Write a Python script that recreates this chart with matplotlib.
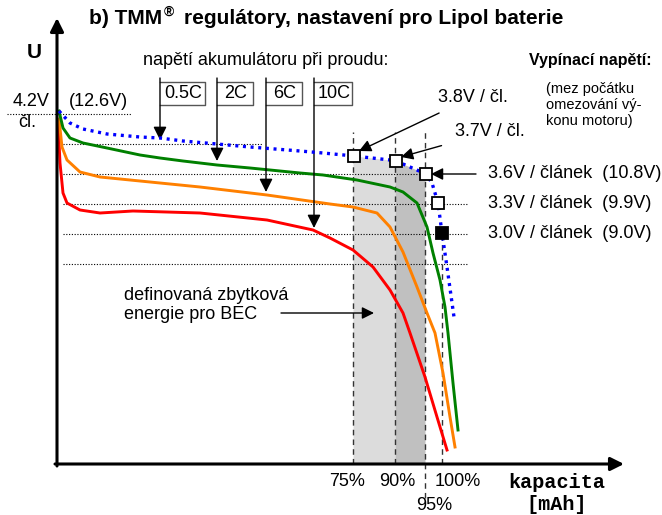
import numpy as np
import matplotlib.pyplot as plt

plt.rcParams['font.family'] = ['Liberation Sans', 'DejaVu Sans']

# discharge curves: x = capacity position (px column), y = cell voltage [V]
c05_x = [59, 70, 83, 107, 140, 160, 183, 217, 250, 300, 323, 354, 390, 396, 410, 426, 432, 438, 442, 447, 454]
c05_v = [4.23, 4.11, 4.05, 4.00, 3.97, 3.96, 3.93, 3.90, 3.87, 3.83, 3.81, 3.78, 3.74, 3.73, 3.67, 3.60,
         3.51, 3.31, 3.01, 2.67, 2.17]
c2_x = [59, 63, 70, 83, 107, 140, 160, 183, 217, 250, 300, 323, 357, 390, 403, 417, 427, 433, 440, 445, 448, 453, 458]
c2_v = [4.23, 4.06, 3.96, 3.91, 3.86, 3.79, 3.76, 3.73, 3.69, 3.66, 3.61, 3.59, 3.54, 3.47, 3.42, 3.31,
        3.07, 2.81, 2.54, 2.27, 2.01, 1.51, 1.04]
c6_x = [59, 62, 67, 80, 100, 150, 200, 267, 330, 353, 377, 390, 403, 417, 427, 435, 443, 450, 455]
c6_v = [4.15, 3.87, 3.74, 3.62, 3.57, 3.52, 3.47, 3.39, 3.30, 3.27, 3.21, 3.07, 2.82, 2.47, 2.21, 2.01,
        1.61, 1.17, 0.87]
c10_x = [58, 60, 63, 67, 80, 100, 133, 200, 267, 313, 330, 353, 373, 390, 403, 410, 425, 437, 447]
c10_v = [4.12, 3.71, 3.41, 3.31, 3.24, 3.21, 3.23, 3.21, 3.14, 3.04, 2.96, 2.84, 2.67, 2.44, 2.21, 2.01,
         1.57, 1.17, 0.84]

rates = ['0.5C', '2C', '6C', '10C']
rate_tip_v = [3.94, 3.73, 3.42, 3.06]

cut_v = [3.8, 3.7, 3.6, 3.3, 3.0]
cut_x = [354, 396, 426, 438, 442]
pack_v = [10.8, 9.9, 9.0]
pct = ['75%', '90%', '95%', '100%']
pct_x = [353, 395, 425, 442]


def v(py):
    # pixel row -> volts (10 px per 0.1 V, 3.6 V at row 174)
    return 3.6 - (py - 174) / 100.0


fig = plt.figure(figsize=(6.62, 5.15), dpi=100)
ax = fig.add_axes([0, 0, 1, 1])
ax.set_xlim(0, 662)
ax.set_ylim(v(515), v(0))
ax.axis('off')

y0 = v(464)

# shaded residual energy zones under the 0.5C curve
xs = np.linspace(pct_x[0], pct_x[1], 50)
ax.fill_between(xs, y0, np.interp(xs, c05_x, c05_v), color='#dcdcdc', lw=0, zorder=1)
xs = np.linspace(pct_x[1], pct_x[2], 50)
ax.fill_between(xs, y0, np.interp(xs, c05_x, c05_v), color='#c0c0c0', lw=0, zorder=1)

# dashed capacity marks
for i, x in enumerate(pct_x):
    top = v(132) if i < 3 else v(238)
    bot = v(498) if i == 2 else y0
    ax.plot([x, x], [bot, top], color='#333333', lw=1, ls=(0, (4, 3)), zorder=2)

# dotted voltage levels
ax.plot([7, 132], [4.2, 4.2], color='k', lw=0.8, ls=(0, (1, 1.5)), zorder=2)
ax.plot([63, 262], [3.9, 3.9], color='k', lw=0.8, ls=(0, (1, 1.5)), zorder=2)
ax.plot([63, 426], [3.6, 3.6], color='k', lw=0.8, ls=(0, (1, 1.5)), zorder=2)
for lv in [3.3, 3.0, 2.7]:
    ax.plot([63, 468], [lv, lv], color='k', lw=0.8, ls=(0, (1, 1.5)), zorder=2)

# curves
ax.plot(c10_x, c10_v, color='#ff0000', lw=2.1, zorder=3)
ax.plot(c6_x, c6_v, color='#ff8000', lw=2.1, zorder=3)
ax.plot(c2_x, c2_v, color='#008000', lw=2.1, zorder=3)
ax.plot(c05_x, c05_v, color='#0000ff', lw=2.4, ls=(0, (0.9, 1.4)), zorder=4)

# cut-off markers
mk_v = np.interp(cut_x, c05_x, c05_v)
for i in range(len(cut_x)):
    face = 'k' if i == len(cut_x) - 1 else 'white'
    ax.plot(cut_x[i], mk_v[i], marker='s', ms=8, mfc=face, mec='k', mew=1.3, zorder=5)

# axes
ax.annotate('', xy=(57, v(18)), xytext=(57, v(466)),
            arrowprops=dict(arrowstyle='-|>', color='k', lw=2.2, mutation_scale=20, shrinkA=0, shrinkB=0))
ax.annotate('', xy=(624, y0), xytext=(55, y0),
            arrowprops=dict(arrowstyle='-|>', color='k', lw=2.2, mutation_scale=20, shrinkA=0, shrinkB=0))

# rate labels with arrows
box_x = [(160, 205), (217, 253), (266, 302), (314, 352)]
for lab, (xa, xb), tip in zip(rates, box_x, rate_tip_v):
    ax.plot([xa, xb, xb, xa], [v(82), v(82), v(105), v(105)], color='#555555', lw=1, zorder=3)
    ax.text((xa + xb) / 2 + 1, v(94), lab, fontsize=13, ha='center', va='center')
    ax.annotate('', xy=(xa, tip), xytext=(xa, v(78)),
                arrowprops=dict(arrowstyle='-|>', color='k', lw=1, mutation_scale=20, shrinkA=0, shrinkB=0))

# texts
ax.text(162, v(19), 'b) TMM', fontsize=15, fontweight='bold', ha='right', va='center')
ax.text(164, v(12), '®', fontsize=10, fontweight='bold', ha='left', va='center')
ax.text(184, v(19), 'regulátory, nastavení pro Lipol baterie', fontsize=15, fontweight='bold',
        ha='left', va='center')
ax.text(34, v(52), 'U', fontsize=15, fontweight='bold', ha='center', va='center')
ax.text(266, v(61), 'napětí akumulátoru při proudu:', fontsize=13, ha='center', va='center')
ax.text(652, v(61), 'Vypínací napětí:', fontsize=11.5, fontweight='bold', ha='right', va='center')
ax.text(546, v(105), '(mez počátku\nomezování vý-\nkonu motoru)', fontsize=10.5, ha='left',
        va='center', linespacing=1.15)

ax.text(31, v(102), '4.2V', fontsize=13, ha='center', va='center')
ax.text(98, v(102), '(12.6V)', fontsize=13, ha='center', va='center')
ax.text(27, v(123), 'čl.', fontsize=13, ha='center', va='center')

ax.annotate('%.1fV / čl.' % cut_v[0], xy=(cut_x[0] + 5, mk_v[0] + 0.05), xytext=(438, v(97)),
            fontsize=13, ha='left', va='center',
            arrowprops=dict(arrowstyle='-|>', color='k', lw=1, mutation_scale=18, shrinkA=8, shrinkB=0))
ax.annotate('%.1fV / čl.' % cut_v[1], xy=(cut_x[1] + 5, mk_v[1] + 0.04), xytext=(455, v(132)),
            fontsize=13, ha='left', va='center',
            arrowprops=dict(arrowstyle='-|>', color='k', lw=1, mutation_scale=18, shrinkA=8, shrinkB=0))
ax.annotate('', xy=(cut_x[2] + 5, mk_v[2]), xytext=(476, mk_v[2]),
            arrowprops=dict(arrowstyle='-|>', color='k', lw=1, mutation_scale=18, shrinkA=0, shrinkB=0))
for lv, pv in zip(cut_v[2:], pack_v):
    ax.text(488, lv, '%.1fV / článek  (%.1fV)' % (lv, pv), fontsize=13, ha='left', va='center')

ax.text(124, v(305), 'definovaná zbytková\nenergie pro BEC', fontsize=13, ha='left', va='center',
        linespacing=1.15)
ax.annotate('', xy=(374, v(313)), xytext=(281, v(313)),
            arrowprops=dict(arrowstyle='-|>', color='k', lw=1, mutation_scale=18, shrinkA=0, shrinkB=0))

for lab, x in zip(pct, pct_x):
    if lab == '95%':
        ax.text(x + 9, v(505), lab, fontsize=13, ha='center', va='center')
    elif lab == '100%':
        ax.text(x + 16, v(481), lab, fontsize=13, ha='center', va='center')
    else:
        ax.text(x - 6 if lab == '75%' else x + 2, v(481), lab, fontsize=13, ha='center', va='center')

ax.text(557, v(482), 'kapacita', fontsize=14.5, fontweight='bold', family='Liberation Mono',
        ha='center', va='center')
ax.text(557, v(504), '[mAh]', fontsize=14.5, fontweight='bold', family='Liberation Mono',
        ha='center', va='center')

fig.savefig('out.png', dpi=100)
